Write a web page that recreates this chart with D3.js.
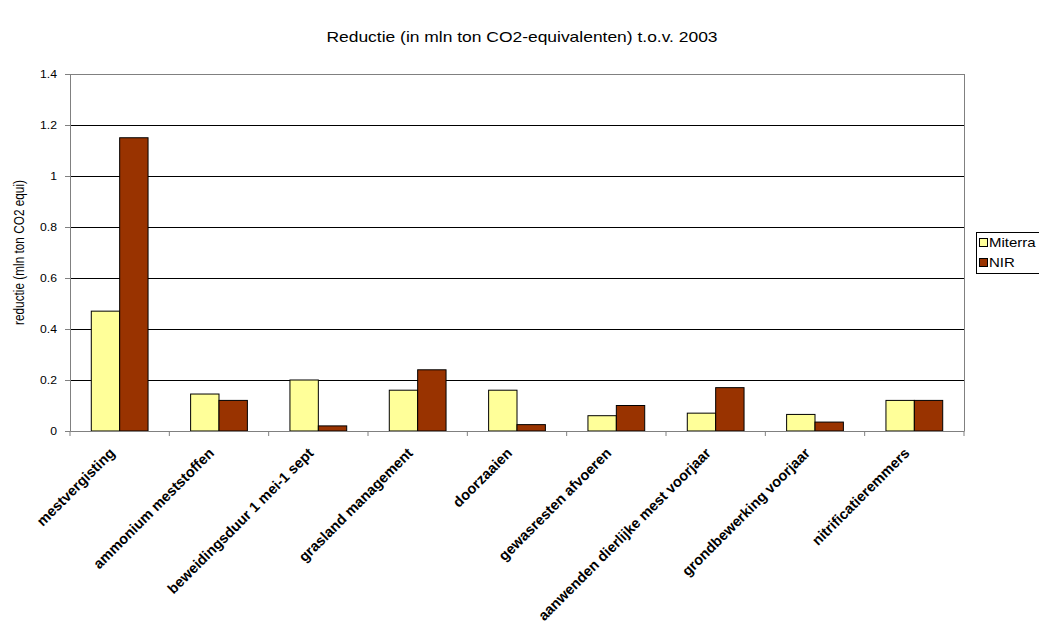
<!DOCTYPE html>
<html><head><meta charset="utf-8">
<script src="https://cdn.jsdelivr.net/npm/d3@7"></script>
<style>body{margin:0;background:#fff}svg{display:block;font-family:Arial,"Liberation Sans",sans-serif}</style>
</head><body><svg id="c" width="1039" height="623"></svg>
<script>
const categories = ["mestvergisting","ammonium meststoffen","beweidingsduur 1 mei-1 sept","grasland management","doorzaaien","gewasresten afvoeren","aanwenden dierlijke mest voorjaar","grondbewerking voorjaar","nitrificatieremmers"];
const miterra = [0.47,0.145,0.2,0.16,0.16,0.06,0.07,0.065,0.12];
const nir = [1.15,0.12,0.02,0.24,0.025,0.1,0.17,0.035,0.12];
const seriesNames = ["Miterra","NIR"];
const seriesColors = ["#FFFF99","#993300"];
const yTicks = [0,0.2,0.4,0.6,0.8,1,1.2,1.4];
const titleText = "Reductie (in mln ton CO2-equivalenten) t.o.v. 2003";
const yLabelText = "reductie (mln ton CO2 equi)";

const SX = 1.22; // horizontal text stretch
const svg = d3.select("#c");
const L = 70, R = 964, T = 74, B = 431;
const x = d3.scaleBand().domain(categories).range([L, R]);
const xs = d3.scaleBand().domain(seriesNames).range([0, x.bandwidth()]).paddingOuter(0.75);
const y = d3.scaleLinear().domain([0, 1.4]).range([B, T]);

// gridlines
svg.append("g").selectAll("line").data(yTicks.filter(d => d > 0 && d < 1.4)).join("line")
  .attr("x1", L).attr("x2", R).attr("y1", d => y(d)).attr("y2", d => y(d))
  .attr("stroke", "#000").attr("shape-rendering", "crispEdges");
// plot border top/right
svg.append("path").attr("d", `M${L},${y(1.4)}H${R}V${B}`).attr("fill", "none")
  .attr("stroke", "#808080").attr("shape-rendering", "crispEdges");

// bars
const data = categories.map((c, i) => ({c, vals: [miterra[i], nir[i]]}));
const g = svg.append("g");
data.forEach(d => {
  d.vals.forEach((v, j) => {
    g.append("rect")
      .attr("x", x(d.c) + xs(seriesNames[j]))
      .attr("y", y(v))
      .attr("width", xs.bandwidth())
      .attr("height", y(0) - y(v))
      .attr("fill", seriesColors[j]).attr("stroke", "#000").attr("stroke-width", 1);
  });
});

// y axis
const ya = svg.append("g").attr("transform", `translate(${L},0)`)
  .call(d3.axisLeft(y).tickValues(yTicks).tickSize(5).tickFormat(d => String(d)));
ya.select(".domain").attr("stroke", "#808080");
ya.selectAll(".tick line").attr("stroke", "#808080");
ya.selectAll(".tick text").attr("x", null).attr("dy", null)
  .attr("dominant-baseline", "central")
  .attr("transform", `translate(-13,0) scale(${SX},1)`)
  .attr("font-size", 10).attr("font-family", "Arial, 'Liberation Sans', sans-serif").attr("fill", "#000");

// x axis
const xa = svg.append("g").attr("transform", `translate(0,${B})`)
  .call(d3.axisBottom(x).tickSize(0).tickFormat(""));
xa.select(".domain").attr("stroke", "#808080");
xa.selectAll(".tick").remove();
const bounds = categories.map(c => x(c)).concat([R]);
xa.selectAll("line.bt").data(bounds).join("line").attr("class", "bt")
  .attr("x1", d => d).attr("x2", d => d).attr("y1", 0).attr("y2", 5).attr("stroke", "#808080");
xa.selectAll("text.cl").data(categories).join("text").attr("class", "cl")
  .attr("transform", d => `translate(${x(d) + x.bandwidth() / 2 - 4},${23}) rotate(-45)`)
  .attr("text-anchor", "end").attr("font-size", 14.5).attr("font-weight", "bold")
  .attr("font-family", "Arial, 'Liberation Sans', sans-serif").attr("fill", "#000")
  .text(d => d);

// title
svg.append("text").attr("transform", `translate(522,42) scale(${SX},1)`)
  .attr("text-anchor", "middle").attr("font-size", 14.3).text(titleText);
// y label
svg.append("text").attr("transform", `translate(24,${(T + B) / 2}) scale(${SX},1) rotate(-90)`)
  .attr("text-anchor", "middle").attr("font-size", 11.8).text(yLabelText);

// legend
const lg = svg.append("g").attr("transform", "translate(976,232)");
lg.append("rect").attr("x", 0.5).attr("y", 0.5).attr("width", 80).attr("height", 41)
  .attr("fill", "#fff").attr("stroke", "#000");
seriesNames.forEach((s, j) => {
  lg.append("rect").attr("x", 3.5).attr("y", 6.5 + j * 20).attr("width", 8).attr("height", 8)
    .attr("fill", seriesColors[j]).attr("stroke", "#000");
  lg.append("text").attr("transform", `translate(13,${15 + j * 20}) scale(${SX},1)`)
    .attr("font-size", 12.3).text(s);
});
</script></body></html>
